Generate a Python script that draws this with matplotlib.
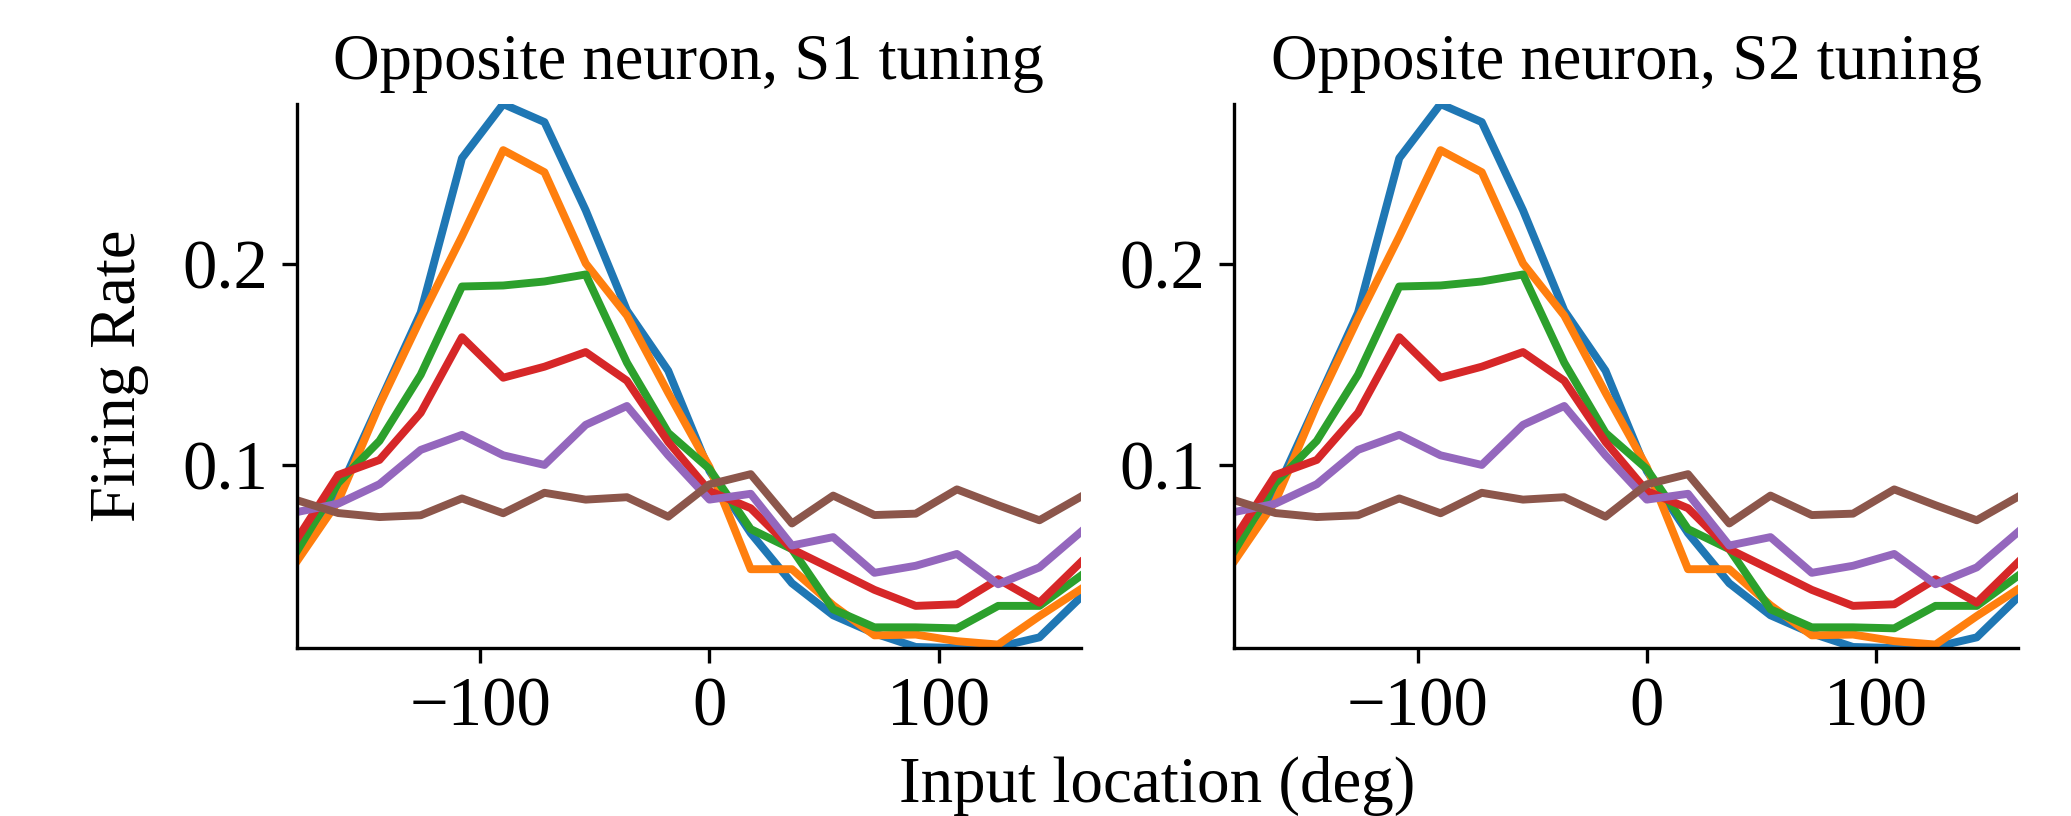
import numpy as np
import matplotlib
matplotlib.use("Agg")
import matplotlib.pyplot as plt

plt.rcParams['font.family'] = ['Liberation Serif', 'DejaVu Serif']
plt.rcParams['font.size'] = 16
plt.rcParams['axes.unicode_minus'] = True

# input locations (deg)
locations = [-180, -162, -144, -126, -108, -90, -72, -54, -36, -18,
             0, 18, 36, 54, 72, 90, 108, 126, 144, 162]

# firing rate curves, one per condition
rate_1 = [0.056, 0.086, 0.131, 0.176, 0.253, 0.280, 0.271, 0.227, 0.177, 0.147,
          0.097, 0.066, 0.041, 0.025, 0.0160, 0.0092, 0.0087, 0.0092, 0.0140, 0.034]
rate_2 = [0.052, 0.082, 0.130, 0.173, 0.214, 0.257, 0.246, 0.2005, 0.1745, 0.136,
          0.099, 0.048, 0.048, 0.030, 0.0150, 0.0154, 0.0121, 0.0104, 0.0246, 0.038]
rate_3 = [0.057, 0.091, 0.112, 0.145, 0.189, 0.1895, 0.1915, 0.195, 0.151, 0.116,
          0.098, 0.068, 0.058, 0.028, 0.019, 0.019, 0.0185, 0.0297, 0.0297, 0.0447]
rate_4 = [0.063, 0.095, 0.1025, 0.126, 0.1637, 0.1435, 0.149, 0.1563, 0.142, 0.1115,
          0.087, 0.0784, 0.058, 0.0479, 0.0377, 0.0297, 0.0305, 0.043, 0.0313, 0.0514]
rate_5 = [0.0765, 0.0807, 0.0904, 0.1075, 0.115, 0.1048, 0.100, 0.120, 0.1294, 0.1048,
          0.0827, 0.0856, 0.0598, 0.064, 0.0462, 0.0497, 0.0556, 0.0405, 0.0489, 0.0665]
rate_6 = [0.0824, 0.076, 0.074, 0.0749, 0.0833, 0.0759, 0.0861, 0.0827, 0.0839, 0.0742,
          0.0903, 0.0954, 0.0708, 0.0847, 0.075, 0.0757, 0.0878, 0.0799, 0.0724, 0.0841]

titles = ["Opposite neuron, S1 tuning", "Opposite neuron, S2 tuning"]


def plot_tuning(ax, title):
    for r in [rate_1, rate_2, rate_3, rate_4, rate_5, rate_6]:
        ax.plot(locations, r, linewidth=1.9)
    ax.margins(x=0, y=0)
    ax.set_xticks([-100, 0, 100])
    ax.set_yticks([0.1, 0.2])
    ax.tick_params(labelsize=16.5)
    ax.set_title(title, fontsize=15.5)
    ax.spines['top'].set_visible(False)
    ax.spines['right'].set_visible(False)


fig, axes = plt.subplots(1, 2, figsize=(2071 / 300, 816 / 300), dpi=300)
for ax, t in zip(axes, titles):
    plot_tuning(ax, t)
axes[0].set_ylabel("Firing Rate", fontsize=15.5, labelpad=8)

fig.subplots_adjust(left=0.1434, right=0.9744, top=0.8725, bottom=0.2059, wspace=0.196)
fig.text((0.1434 + 0.9744) / 2, 0.037, "Input location (deg)", ha='center', va='center',
         fontsize=15.6)

plt.savefig("out.png", dpi=300)
